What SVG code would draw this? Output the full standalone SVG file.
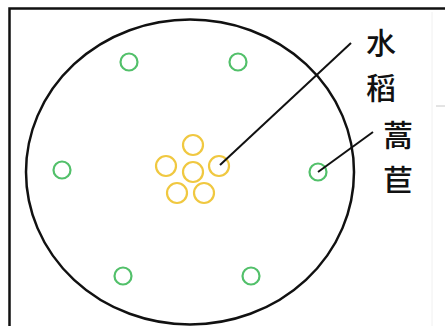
<svg xmlns="http://www.w3.org/2000/svg" width="445" height="326" viewBox="0 0 445 326">
<style>
.g{fill:none;stroke:#52c06a;stroke-width:2.2}
.y{fill:none;stroke:#f0c840;stroke-width:2.2}
.lbl{font-family:"Noto Sans CJK SC","Noto Sans CJK JP",sans-serif;font-size:30px;font-weight:500;fill:#111;text-anchor:middle}
.ln{stroke:#111;stroke-width:2;fill:none}
</style>
<rect width="445" height="326" fill="#fff"/>
<path d="M9.5 326 V8.5 H445" fill="none" stroke="#111" stroke-width="2.5"/>
<line x1="432" y1="12" x2="432" y2="326" stroke="#f0f0f0" stroke-width="1"/>
<line x1="436" y1="106" x2="445" y2="106" stroke="#c8c8c8" stroke-width="1"/>
<g id="field"><ellipse cx="190" cy="172" rx="164" ry="152.5" fill="none" stroke="#111" stroke-width="2.5"/></g>
<g id="jiaobai">
<circle class="g" cx="129" cy="62" r="8.5"/>
<circle class="g" cx="238" cy="62" r="8.5"/>
<circle class="g" cx="62" cy="170" r="8.5"/>
<circle class="g" cx="318" cy="172" r="8.5"/>
<circle class="g" cx="123" cy="276" r="8.5"/>
<circle class="g" cx="251" cy="276" r="8.5"/>
</g>
<g id="rice">
<circle class="y" cx="193" cy="145" r="10"/>
<circle class="y" cx="166" cy="166" r="10"/>
<circle class="y" cx="193" cy="172" r="10"/>
<circle class="y" cx="219" cy="166" r="10"/>
<circle class="y" cx="177" cy="193" r="10"/>
<circle class="y" cx="204" cy="193" r="10"/>
</g>
<g id="connectors">
<line class="ln" x1="220" y1="165" x2="351" y2="43"/>
<line class="ln" x1="318" y1="172" x2="373" y2="132"/>
</g>
<g id="label-rice">
<text class="lbl" x="381" y="54">水</text>
<text class="lbl" x="381" y="99">稻</text>
</g>
<g id="label-jiaobai">
<text class="lbl" x="398" y="146">蒿</text>
<text class="lbl" x="398" y="191">苣</text>
</g>
</svg>
